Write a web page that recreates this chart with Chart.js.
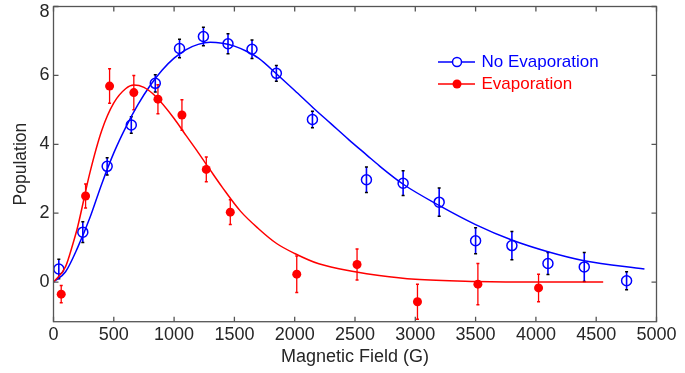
<!DOCTYPE html>
<html>
<head>
<meta charset="utf-8">
<script src="https://cdn.jsdelivr.net/npm/chart.js@4"></script>
<style>
html,body{margin:0;padding:0;background:#fff;}
#wrap{position:relative;width:685px;height:373px;}
canvas{display:block;}
</style>
</head>
<body>
<div id="wrap"><canvas id="c" width="685" height="373" style="width:685px;height:373px;"></canvas></div>
<script>
// ---- data ----
const xTickValues = [0,500,1000,1500,2000,2500,3000,3500,4000,4500,5000];
const yTickValues = [0,2,4,6,8];

const noEvapField = [44,243,445,645,844,1045,1243,1447,1646,1848,2147,2595,2899,3198,3500,3801,4100,4401,4752];
const noEvapPop   = [0.38,1.45,3.36,4.56,5.77,6.78,7.13,6.92,6.76,6.06,4.72,2.97,2.87,2.32,1.2,1.06,0.54,0.44,0.04];
const noEvapErr   = [0.28,0.3,0.25,0.24,0.25,0.27,0.27,0.29,0.27,0.23,0.24,0.37,0.36,0.41,0.38,0.41,0.32,0.42,0.26];

const evapField = [64,266,465,666,866,1065,1267,1466,2017,2517,3018,3519,4022];
const evapPop   = [-0.35,2.5,5.69,5.5,5.31,4.85,3.27,2.03,0.23,0.51,-0.57,-0.06,-0.17];
const evapErr   = [0.25,0.35,0.5,0.5,0.42,0.44,0.36,0.36,0.53,0.45,0.51,0.6,0.4];

// fitted curves
const noEvapFitX = [0,100,200,300,400,500,600,700,800,900,1000,1100,1200,1300,1400,1500,1600,1700,1850,2000,2150,2300,2450,2600,2700,2900,3200,3500,3800,4100,4400,4900];
const noEvapFitY = [0,0.3,1.0,1.85,2.85,3.75,4.5,5.15,5.7,6.15,6.5,6.75,6.9,6.96,6.93,6.85,6.7,6.5,6.04,5.56,5.07,4.6,4.13,3.68,3.38,2.84,2.22,1.67,1.22,0.88,0.62,0.38];

const evapFitX = [0,100,160,200,300,400,500,600,666,750,850,1000,1100,1200,1300,1400,1550,1700,1850,2000,2200,2500,2700,3000,3500,4000,4558];
const evapFitY = [0,0.45,1.1,1.6,3.15,4.4,5.2,5.62,5.72,5.65,5.38,4.75,4.25,3.76,3.25,2.75,2.06,1.55,1.12,0.83,0.53,0.3,0.19,0.08,0.02,0.0,0.0];

const BLUE = '#0000ff';
const RED = '#ff0000';
const TEXT = '#262626';
const FONT = "'Liberation Sans', Arial, Helvetica, sans-serif";

const pts = (xs, ys) => xs.map((x, i) => ({x: x, y: ys[i]}));

const errorBars = {
  id: 'errorBars',
  beforeDatasetsDraw(chart) {
    const ctx = chart.ctx;
    const ys = chart.scales.y;
    chart.data.datasets.forEach((ds, i) => {
      if (!ds.errors) return;
      const meta = chart.getDatasetMeta(i);
      ctx.save();
      meta.data.forEach((pt, j) => {
        const v = ds.data[j].y, e = ds.errors[j];
        const yTop = ys.getPixelForValue(v + e);
        const yBot = ys.getPixelForValue(v - e);
        ctx.strokeStyle = ds.borderColor;
        ctx.lineWidth = ds.errLineWidth;
        ctx.beginPath();
        ctx.moveTo(pt.x, yTop);
        ctx.lineTo(pt.x, yBot);
        ctx.stroke();
        ctx.strokeStyle = ds.capColor;
        ctx.lineWidth = 1.5;
        ctx.beginPath();
        ctx.moveTo(pt.x - 1.5, yTop); ctx.lineTo(pt.x + 1.5, yTop);
        ctx.moveTo(pt.x - 1.5, yBot); ctx.lineTo(pt.x + 1.5, yBot);
        ctx.stroke();
      });
      ctx.restore();
    });
  }
};

const frame = {
  id: 'frame',
  afterDraw(chart) {
    const {ctx, chartArea: a, scales} = chart;
    ctx.save();
    ctx.strokeStyle = '#555555';
    ctx.lineWidth = 1.3;
    ctx.strokeRect(a.left, a.top, a.right - a.left, a.bottom - a.top);
    ctx.beginPath();
    const L = 5;
    xTickValues.forEach(v => {
      const x = scales.x.getPixelForValue(v);
      ctx.moveTo(x, a.bottom); ctx.lineTo(x, a.bottom - L);
      ctx.moveTo(x, a.top); ctx.lineTo(x, a.top + L);
    });
    yTickValues.forEach(v => {
      const y = scales.y.getPixelForValue(v);
      ctx.moveTo(a.left, y); ctx.lineTo(a.left + L, y);
      ctx.moveTo(a.right, y); ctx.lineTo(a.right - L, y);
    });
    ctx.stroke();
    ctx.restore();
  }
};

const legendBox = {
  id: 'legendBox',
  afterDraw(chart) {
    const ctx = chart.ctx;
    const rows = [
      {label: 'No Evaporation', color: BLUE, filled: false, y: 62},
      {label: 'Evaporation', color: RED, filled: true, y: 84}
    ];
    ctx.save();
    rows.forEach(r => {
      ctx.strokeStyle = r.color;
      ctx.lineWidth = 1.5;
      ctx.beginPath();
      ctx.moveTo(438, r.y); ctx.lineTo(475, r.y);
      ctx.stroke();
      ctx.beginPath();
      ctx.arc(457, r.y, 4.5, 0, Math.PI * 2);
      if (r.filled) { ctx.fillStyle = r.color; ctx.fill(); }
      else { ctx.fillStyle = '#fff'; ctx.fill(); ctx.stroke(); }
      ctx.fillStyle = r.color;
      ctx.font = '17px ' + FONT;
      ctx.textBaseline = 'middle';
      ctx.textAlign = 'left';
      ctx.fillText(r.label, 481.5, r.y);
    });
    ctx.restore();
  }
};

new Chart(document.getElementById('c'), {
  type: 'scatter',
  data: {
    datasets: [
      {
        label: 'No Evaporation data',
        data: pts(noEvapField, noEvapPop),
        errors: noEvapErr,
        errLineWidth: 1.6,
        capColor: '#000000',
        borderColor: BLUE,
        backgroundColor: 'rgba(0,0,0,0)',
        pointRadius: 5,
        pointBorderWidth: 1.5,
        showLine: false,
        order: 4
      },
      {
        label: 'Evaporation data',
        data: pts(evapField, evapPop),
        errors: evapErr,
        errLineWidth: 1.3,
        capColor: RED,
        borderColor: RED,
        backgroundColor: RED,
        pointRadius: 4.5,
        pointBorderWidth: 0,
        showLine: false,
        order: 3
      },
      {
        label: 'No Evaporation fit',
        type: 'line',
        data: pts(noEvapFitX, noEvapFitY),
        borderColor: BLUE,
        borderWidth: 1.5,
        pointRadius: 0,
        fill: false,
        cubicInterpolationMode: 'monotone',
        order: 2
      },
      {
        label: 'Evaporation fit',
        type: 'line',
        data: pts(evapFitX, evapFitY),
        borderColor: RED,
        borderWidth: 1.5,
        pointRadius: 0,
        fill: false,
        cubicInterpolationMode: 'monotone',
        order: 1
      }
    ]
  },
  options: {
    responsive: false,
    maintainAspectRatio: false,
    animation: false,
    devicePixelRatio: 1,
    layout: {padding: {top: 6.5, right: 28.5, bottom: 0, left: 0}},
    plugins: {legend: {display: false}, tooltip: {enabled: false}},
    scales: {
      x: {
        type: 'linear',
        min: 0, max: 5000,
        afterBuildTicks: s => { s.ticks = xTickValues.map(v => ({value: v})); },
        afterFit: s => { s.height = 51.3; },
        grid: {display: false, drawTicks: false},
        border: {display: false},
        ticks: {color: TEXT, font: {family: FONT, size: 18}, padding: 2.5, maxRotation: 0, autoSkip: false,
                callback: v => String(v)},
        title: {display: true, text: 'Magnetic Field (G)', color: TEXT, font: {family: FONT, size: 18}, padding: {top: 0, bottom: 5}}
      },
      y: {
        type: 'linear',
        min: -1.15, max: 8,
        afterBuildTicks: s => { s.ticks = yTickValues.map(v => ({value: v})); },
        afterFit: s => { s.width = 53.5; s.paddingTop = 0; s.paddingBottom = 0; },
        grid: {display: false, drawTicks: false},
        border: {display: false},
        ticks: {color: TEXT, font: {family: FONT, size: 18, lineHeight: 0.65}, padding: 4,
                callback: v => (v === 8 ? ['', '8'] : String(v))},
        title: {display: true, text: 'Population', color: TEXT, font: {family: FONT, size: 17.5}, padding: {top: 10.5, bottom: 0}}
      }
    }
  },
  plugins: [errorBars, frame, legendBox]
});
</script>
</body>
</html>
